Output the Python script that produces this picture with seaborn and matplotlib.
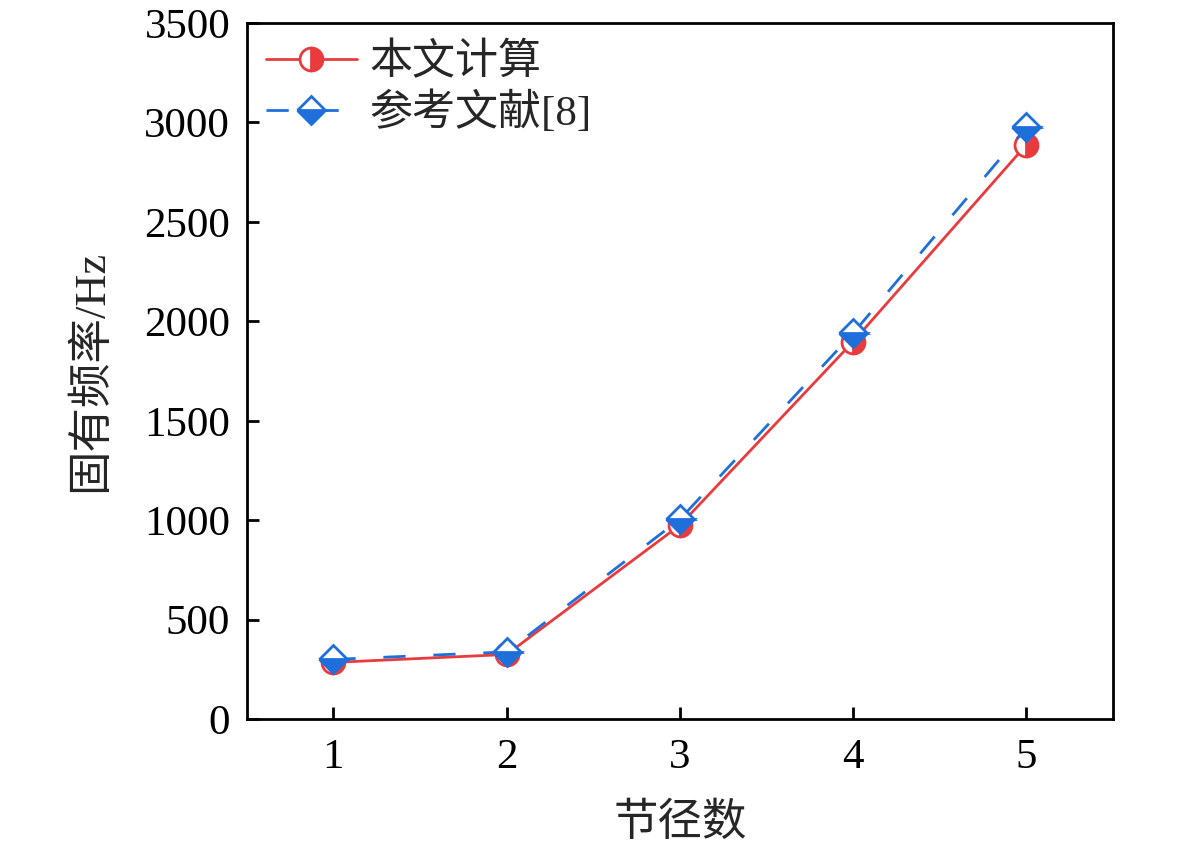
import numpy as np
import pandas as pd
import matplotlib
matplotlib.use('Agg')
import matplotlib.pyplot as plt
import seaborn as sns

# data
nodal = [1, 2, 3, 4, 5]
calc_hz = [285, 325, 975, 1898, 2888]     # 本文计算
ref_hz = [300, 338, 1005, 1940, 2975]     # 参考文献[8]

df = pd.DataFrame({'n': nodal, 'calc': calc_hz, 'ref': ref_hz})

sns.set_theme(style='ticks')
plt.rcParams['font.family'] = ['Liberation Serif', 'Noto Sans CJK SC']
plt.rcParams['axes.unicode_minus'] = False

red = '#E93B3E'
blue = '#1F6FDB'

fig = plt.figure(figsize=(11.81, 8.47), dpi=100)
ax = fig.add_axes([0.209, 0.151, 0.7334, 0.8218])

sns.lineplot(data=df, x='n', y='calc', ax=ax, color=red, lw=2,
             marker='o', ms=16.5, mew=2, mec=red, mfc=red,
             fillstyle='right', markerfacecoloralt='white',
             label='本文计算', zorder=3)
sns.lineplot(data=df, x='n', y='ref', ax=ax, color=blue, lw=2,
             linestyle=(0, (8, 10)),
             marker='D', ms=14.5, mew=2, mec=blue, mfc=blue,
             fillstyle='bottom', markerfacecoloralt='white',
             label='参考文献[8]', zorder=4)

ax.set_xlim(0.5, 5.5)
ax.set_ylim(0, 3500)
ax.set_xticks(nodal)
ax.set_yticks(np.arange(0, 3501, 500))
ax.set_xlabel('节径数', fontsize=32, labelpad=18)
ax.set_ylabel('固有频率/Hz', fontsize=32, labelpad=24)

for s in ax.spines.values():
    s.set_linewidth(2)
    s.set_color('black')
ax.tick_params(direction='in', length=8.5, width=2, labelsize=31, pad=14,
               colors='black')
ax.tick_params(axis='y', pad=12)

leg = ax.legend(loc='upper left', frameon=False, fontsize=31,
                handlelength=2.1, handletextpad=0.3, labelspacing=0.2,
                borderaxespad=0.05, bbox_to_anchor=(0.0, 1.0))

fig.savefig('out.png', dpi=100)
